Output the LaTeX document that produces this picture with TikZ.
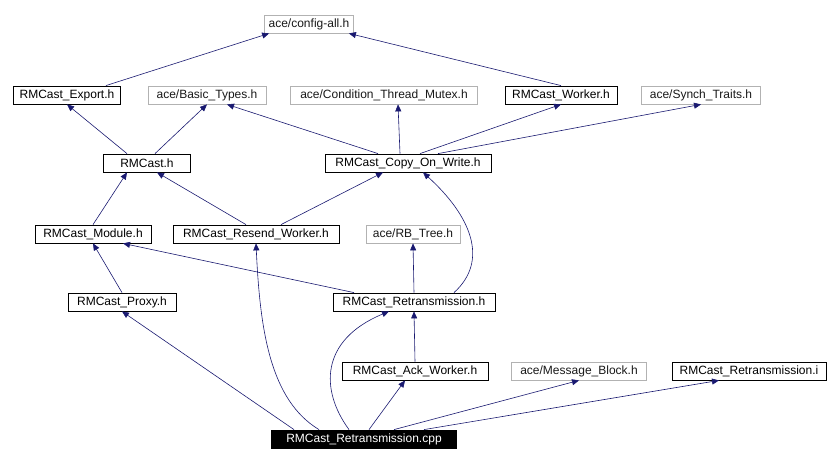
\documentclass[tikz,border=0pt]{standalone}
\usepackage{fontspec}
\setmainfont{Liberation Sans}
\usetikzlibrary{arrows.meta,calc}
\definecolor{edge}{HTML}{191970}
\begin{document}
\begin{tikzpicture}[x=1pt,y=-1pt,
  box/.style={draw=black,fill=white,inner sep=0pt,minimum height=18pt,font=\fontsize{12}{13}\selectfont,line width=0.8pt},
  gbox/.style={box,draw=gray!60,text=gray!20!black},
  main/.style={box,fill=black,text=white},
  dep/.style={draw=edge,line width=0.6pt,-{Triangle[length=7pt,width=6pt]}}]
\useasboundingbox (0,0) rectangle (840,465);
\node[gbox,minimum width=89pt] (cfg) at (309,24) {ace/config-all.h};
\node[box,minimum width=107pt] (exp) at (67,95) {RMCast\_Export.h};
\node[gbox,minimum width=118pt] (bt) at (207,95) {ace/Basic\_Types.h};
\node[gbox,minimum width=187pt] (ctm) at (384,95) {ace/Condition\_Thread\_Mutex.h};
\node[box,minimum width=112pt] (wk) at (561,95) {RMCast\_Worker.h};
\node[gbox,minimum width=119pt] (st) at (701,95) {ace/Synch\_Traits.h};
\node[box,minimum width=87pt] (rm) at (147,163) {RMCast.h};
\node[box,minimum width=166pt] (cow) at (408,163) {RMCast\_Copy\_On\_Write.h};
\node[box,minimum width=116pt] (mod) at (93,234) {RMCast\_Module.h};
\node[box,minimum width=166pt] (rw) at (256,234) {RMCast\_Resend\_Worker.h};
\node[gbox,minimum width=94pt] (rb) at (413,234) {ace/RB\_Tree.h};
\node[box,minimum width=108pt] (px) at (122,302) {RMCast\_Proxy.h};
\node[box,minimum width=162pt] (rth) at (414,302) {RMCast\_Retransmission.h};
\node[box,minimum width=146pt] (ack) at (415,371) {RMCast\_Ack\_Worker.h};
\node[gbox,minimum width=135pt] (mb) at (579,371) {ace/Message\_Block.h};
\node[box,minimum width=154pt] (rti) at (749,371) {RMCast\_Retransmission.i};
\node[main,minimum width=185pt] (cpp) at (364,439) {RMCast\_Retransmission.cpp};
\draw[dep] ($(exp.north east)+(-15,0)$) -- ($(cfg.south west)+(5,0)$);
\draw[dep] (wk.north) -- ($(cfg.south east)+(-5,0)$);
\draw[dep] ($(rm.north)+(-20,0)$) -- (exp.south);
\draw[dep] ($(rm.north)+(8,0)$) -- (bt.south);
\draw[dep] ($(cow.north)+(-30,0)$) -- ($(bt.south)+(20,0)$);
\draw[dep] ($(cow.north)+(-8,0)$) -- ($(ctm.south)+(14,0)$);
\draw[dep] ($(cow.north)+(12,0)$) -- (wk.south);
\draw[dep] ($(cow.north)+(30,0)$) -- (st.south);
\draw[dep] (mod.north) -- ($(rm.south)+(-20,0)$);
\draw[dep] ($(rw.north)+(-10,0)$) -- ($(rm.south)+(10,0)$);
\draw[dep] ($(rw.north)+(25,0)$) -- ($(cow.south)+(-25,0)$);
\draw[dep] ($(rth.north)+(-60,0)$) -- ($(mod.south)+(30,0)$);
\draw[dep] (rth.north) -- (rb.south);
\draw[dep] ($(rth.north)+(40,0)$) .. controls (490,260) and (470,215) .. ($(cow.south)+(15,0)$);
\draw[dep] (px.north) -- (mod.south);
\draw[dep] (ack.north) -- (rth.south);
\draw[dep] ($(cpp.north)+(-70,0)$) -- (px.south);
\draw[dep] ($(cpp.north)+(-45,0)$) .. controls (270,400) and (260,330) .. (rw.south);
\draw[dep] ($(cpp.north)+(-15,0)$) .. controls (320,390) and (320,340) .. ($(rth.south)+(-25,0)$);
\draw[dep] ($(cpp.north)+(5,0)$) -- ($(ack.south)+(-10,0)$);
\draw[dep] ($(cpp.north)+(30,0)$) -- (mb.south);
\draw[dep] ($(cpp.north)+(60,0)$) -- ($(rti.south)+(-30,0)$);
\end{tikzpicture}
\end{document}
